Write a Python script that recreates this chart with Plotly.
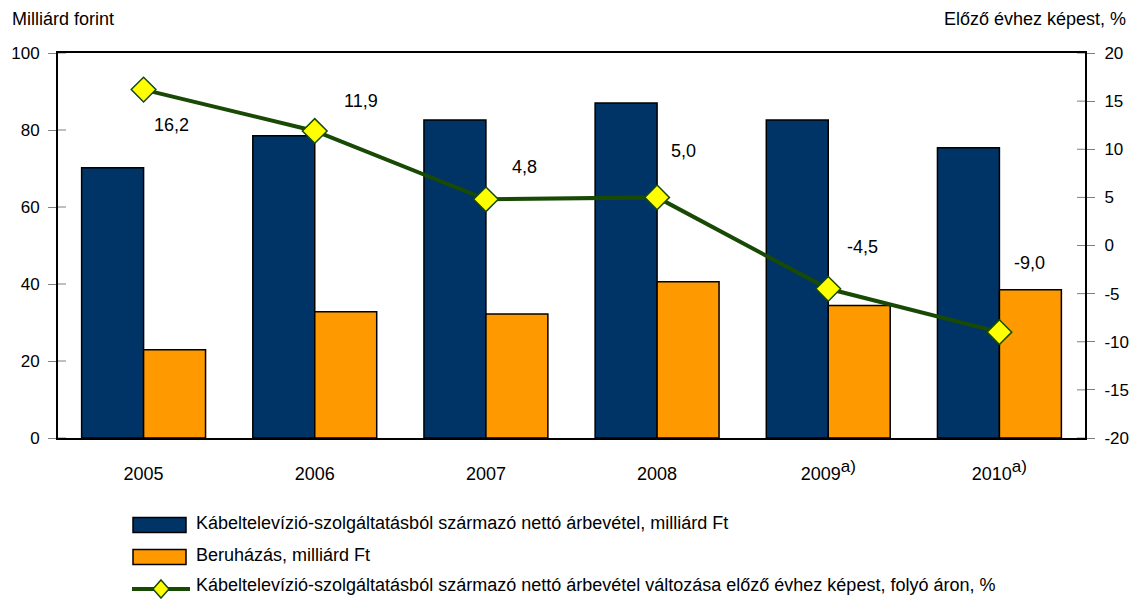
import plotly.graph_objects as go

years = ["2005", "2006", "2007", "2008", "2009", "2010"]
year_labels = ["2005", "2006", "2007", "2008",
               "2009<sup><span style='font-size:17px'>a)</span></sup>",
               "2010<sup><span style='font-size:17px'>a)</span></sup>"]
revenue = [70.2, 78.5, 82.6, 87.0, 82.6, 75.4]
investment = [22.9, 32.8, 32.2, 40.6, 34.4, 38.5]
change = [16.2, 11.9, 4.8, 5.0, -4.5, -9.0]
change_labels = ["16,2", "11,9", "4,8", "5,0", "-4,5", "-9,0"]
label_shift = [(28, -35), (46, 30), (39, 32), (26, 46), (34, 42), (30, 69)]

left_ticks = [0, 20, 40, 60, 80, 100]
left_tick_labels = ["0", "20", "40", "60", "80", "100"]
right_ticks = [-20, -15, -10, -5, 0, 5, 10, 15, 20]
right_tick_labels = ["-20", "-15", "-10", "-5", "0", "5", "10", "15", "20"]

legend_names = [
    "Kábeltelevízió-szolgáltatásból származó nettó árbevétel, milliárd Ft",
    "Beruházás, milliárd Ft",
    "Kábeltelevízió-szolgáltatásból származó nettó árbevétel változása előző évhez képest, folyó áron, %",
]

NAVY = "#003366"
ORANGE = "#FF9900"
GREEN = "#184A06"
YELLOW = "#FFFF00"
TICKGREY = "#808080"
FONT = "Liberation Sans, Arial, sans-serif"

W, H = 1136, 599
L, R, T, B = 58, 51, 53, 161
PW = W - L - R
TICK = 8

fig = go.Figure()
fig.add_trace(go.Bar(x=years, y=revenue, marker=dict(color=NAVY, line=dict(color="black", width=1.5)),
                     name=legend_names[0], showlegend=False))
fig.add_trace(go.Bar(x=years, y=investment, marker=dict(color=ORANGE, line=dict(color="black", width=1.5)),
                     name=legend_names[1], showlegend=False))
fig.add_trace(go.Scatter(x=years, y=change, yaxis="y2", mode="lines+markers",
                         line=dict(color=GREEN, width=4),
                         marker=dict(symbol="diamond", size=19, color=YELLOW, line=dict(color=GREEN, width=1.5)),
                         name=legend_names[2], showlegend=False))

annotations = []
for i, (v, lab, (dx, dy)) in enumerate(zip(change, change_labels, label_shift)):
    annotations.append(dict(x=i, y=v, xref="x", yref="y2", text=lab, showarrow=False, xshift=dx, yshift=dy,
                            font=dict(size=18, color="black", family=FONT)))

annotations.append(dict(xref="paper", yref="paper", x=(10 - L) / PW, y=1 + (T - 19) / (H - T - B),
                        xanchor="left", yanchor="middle", text="Milliárd forint", showarrow=False,
                        font=dict(size=18, color="black", family=FONT)))
annotations.append(dict(xref="paper", yref="paper", x=1 + (1128 - (W - R)) / PW, y=1 + (T - 19) / (H - T - B),
                        xanchor="right", yanchor="middle", text="Előző évhez képest, %", showarrow=False,
                        font=dict(size=18, color="black", family=FONT)))

def px_x(x):
    return (x - L) / PW

def px_y(y):
    return (H - B - y) / (H - T - B)

shapes = []
# inner halves of the crossing tick marks, placed through the axis scales
for t in left_ticks:
    shapes.append(dict(type="line", xref="paper", yref="y", x0=0, x1=TICK / PW, y0=t, y1=t,
                       line=dict(color=TICKGREY, width=1), layer="above"))
for t in right_ticks:
    shapes.append(dict(type="line", xref="paper", yref="y2", x0=1 - TICK / PW, x1=1, y0=t, y1=t,
                       line=dict(color=TICKGREY, width=1), layer="above"))

sym_rows = [525, 557, 589]
text_rows = [523, 555, 585]
for c, yy in zip([NAVY, ORANGE], sym_rows[:2]):
    shapes.append(dict(type="rect", xref="paper", yref="paper", x0=px_x(133), x1=px_x(186),
                       y0=px_y(yy - 7.5), y1=px_y(yy + 7.5), fillcolor=c, line=dict(color="black", width=1.5)))
shapes.append(dict(type="line", xref="paper", yref="paper", x0=px_x(132), x1=px_x(190),
                   y0=px_y(sym_rows[2]), y1=px_y(sym_rows[2]), line=dict(color=GREEN, width=4)))
shapes.append(dict(type="path", xref="paper", yref="paper",
                   path="M {a},{b} L {c},{d} L {a},{e} L {f},{d} Z".format(
                       a=px_x(161), b=px_y(sym_rows[2] - 9), c=px_x(169), d=px_y(sym_rows[2]),
                       e=px_y(sym_rows[2] + 9), f=px_x(153)),
                   fillcolor=YELLOW, line=dict(color=GREEN, width=1.5)))
for name, yy in zip(legend_names, text_rows):
    annotations.append(dict(xref="paper", yref="paper", x=px_x(194), y=px_y(yy), xanchor="left", yanchor="middle",
                            text=name, showarrow=False, font=dict(size=18, color="black", family=FONT)))

fig.update_layout(
    width=W, height=H,
    margin=dict(l=L, r=R, t=T, b=B, autoexpand=False),
    paper_bgcolor="white", plot_bgcolor="white",
    barmode="group", bargap=0.276, bargroupgap=0,
    font=dict(family=FONT, size=18, color="black"),
    showlegend=False,
    xaxis=dict(type="category", range=[-0.5, len(years) - 0.5], tickvals=years, ticktext=year_labels,
               showline=True, linecolor="black", linewidth=2, automargin=False,
               mirror=True, ticks="", showgrid=False, ticklabelstandoff=18,
               tickfont=dict(size=18, family=FONT)),
    yaxis=dict(range=[0, 100], tickvals=left_ticks, ticktext=left_tick_labels, showline=True, linecolor="black",
               linewidth=2, ticks="outside", automargin=False,
               ticklen=TICK, tickcolor=TICKGREY, showgrid=False, zeroline=False,
               tickfont=dict(size=17, family=FONT), ticklabelstandoff=5),
    yaxis2=dict(range=[-20, 20], tickvals=right_ticks, ticktext=right_tick_labels, overlaying="y", side="right",
                showline=True, linecolor="black", automargin=False,
                linewidth=2, ticks="outside", ticklen=TICK, tickcolor=TICKGREY, showgrid=False, zeroline=False,
                tickfont=dict(size=17, family=FONT), ticklabelstandoff=6),
    annotations=annotations,
    shapes=shapes,
)

fig.write_html("out.html", config={"displayModeBar": False},
               post_script="document.body.style.margin='0';document.body.style.overflow='hidden';")
